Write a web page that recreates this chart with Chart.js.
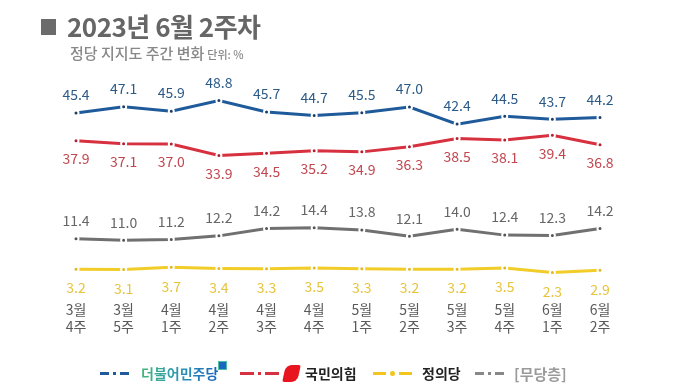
<!DOCTYPE html>
<html>
<head>
<meta charset="utf-8">
<script src="https://cdn.jsdelivr.net/npm/chart.js@4"></script>
<style>
  body { margin: 0; background: #fff; font-family: "Noto Sans CJK KR", "Noto Sans", sans-serif; }
  #wrap { position: relative; width: 680px; height: 389px; overflow: hidden; }
  #myChart { position: absolute; left: 0; top: 0; }
  .title { position: absolute; left: 41px; top: 7px; font-size: 26px; font-weight: 700; color: #666; letter-spacing: -0.5px; white-space: nowrap; }
  .title .sq { display: inline-block; width: 15px; height: 16px; background: #6b6b6b; margin-right: 11px; vertical-align: 2px; }
  .sub { position: absolute; left: 70px; top: 42px; font-size: 15px; font-weight: 500; color: #888; white-space: nowrap; }
  .sub small { font-size: 11px; margin-left: 3px; }
  .lg { position: absolute; top: 362px; height: 22px; display: flex; align-items: center; white-space: nowrap; }
  .sym { display: flex; align-items: center; }
  .sym i { display: block; height: 3px; }
  .name { font-size: 14px; font-weight: 700; margin-left: 10px; }
</style>
</head>
<body>
<div id="wrap">
  <canvas id="myChart" width="680" height="389"></canvas>
  <div class="title"><span class="sq"></span>2023년 6월 2주차</div>
  <div class="sub">정당 지지도 주간 변화<small>단위: %</small></div>

  <div class="lg" style="left:100px">
    <span class="sym"><i style="width:9px;background:#1f5b9a"></i><i style="width:3px;margin:0 4px;background:#1f5b9a"></i><i style="width:9px;background:#1f5b9a"></i></span>
    <span class="name" style="margin-left:12px;background:linear-gradient(90deg,#43b67a,#2f9bb0 45%,#1a66c0);-webkit-background-clip:text;background-clip:text;color:transparent">더불어민주당</span>
    <span style="display:block;width:7px;height:7px;background:#1a66c0;border:1px solid #4cc0a0;margin-top:-16px;margin-left:0"></span>
  </div>
  <div class="lg" style="left:240px">
    <span class="sym"><i style="width:14px;background:#d7303f"></i><i style="width:3px;margin:0 4px;background:#d7303f"></i><i style="width:14px;background:#d7303f"></i></span>
    <span style="display:block;width:15px;height:17px;background:#e8141e;border-radius:6px 2px 6px 2px;transform:skewX(-12deg);margin-left:5px"></span>
    <span class="name" style="margin-left:6px;color:#222">국민의힘</span>
  </div>
  <div class="lg" style="left:373px">
    <span class="sym"><i style="width:13px;background:#f2c61f"></i><i style="width:5px;height:5px;border-radius:50%;margin:0 4px;background:#f2c61f"></i><i style="width:13px;background:#f2c61f"></i></span>
    <span class="name" style="color:#222">정의당</span>
  </div>
  <div class="lg" style="left:475px">
    <span class="sym"><i style="width:9px;background:#888"></i><i style="width:3px;margin:0 4px;background:#888"></i><i style="width:9px;background:#888"></i></span>
    <span class="name" style="color:#9a9a9a;font-size:15px">[무당층]</span>
  </div>
</div>

<script>
let monthLabels = ["3월", "3월", "4월", "4월", "4월", "4월", "5월", "5월", "5월", "5월", "6월", "6월"];
let weekLabels = ["4주", "5주", "1주", "2주", "3주", "4주", "1주", "2주", "3주", "4주", "1주", "2주"];
let minjooData = [45.4, 47.1, 45.9, 48.8, 45.7, 44.7, 45.5, 47.0, 42.4, 44.5, 43.7, 44.2];
let ppData = [37.9, 37.1, 37.0, 33.9, 34.5, 35.2, 34.9, 36.3, 38.5, 38.1, 39.4, 36.8];
let noneData = [11.4, 11.0, 11.2, 12.2, 14.2, 14.4, 13.8, 12.1, 14.0, 12.4, 12.3, 14.2];
let justiceData = [3.2, 3.1, 3.7, 3.4, 3.3, 3.5, 3.3, 3.2, 3.2, 3.5, 2.3, 2.9];

// value labels above/below points + two-line x labels
const labelPlugin = {
  id: "valueLabels",
  afterDatasetsDraw(chart) {
    const ctx = chart.ctx;
    ctx.save();
    ctx.textAlign = "center";
    ctx.textBaseline = "middle";
    ctx.font = "14px 'Noto Sans CJK KR', 'Noto Sans', sans-serif";
    chart.data.datasets.forEach((ds, i) => {
      const meta = chart.getDatasetMeta(i);
      ctx.fillStyle = ds.labelColor;
      meta.data.forEach((pt, j) => {
        ctx.fillText(ds.data[j].toFixed(1), pt.x, pt.y + ds.labelOffset);
      });
    });
    const x = chart.scales.x;
    ctx.font = "14px 'Noto Sans CJK KR', 'Noto Sans', sans-serif";
    ctx.fillStyle = "#5a5a5a";
    monthLabels.forEach((m, j) => {
      const px = x.getPixelForValue(j);
      ctx.fillText(m, px, 310);
      ctx.fillText(weekLabels[j], px, 327);
    });
    ctx.restore();
  }
};

function lineSet(data, color, dot, labelColor, offset) {
  return {
    data: data,
    borderColor: color,
    borderWidth: 3,
    pointRadius: 2.5,
    pointBackgroundColor: dot,
    pointBorderColor: "#fff",
    pointBorderWidth: 2,
    tension: 0,
    labelColor: labelColor,
    labelOffset: offset,
  };
}

let ctx = document.getElementById("myChart");

let chart = new Chart(ctx, {
  type: "line",
  data: {
    labels: monthLabels.map((m, j) => m + " " + weekLabels[j]),
    datasets: [
      lineSet(minjooData, "#1f5b9a", "#1b3f6a", "#2d5b88", -18),
      lineSet(ppData, "#d7303f", "#b02030", "#c1464f", 18),
      lineSet(noneData, "#707070", "#555555", "#666666", -18),
      lineSet(justiceData, "#f2cd2a", "#e0b820", "#e7c43c", 19),
    ],
  },
  options: {
    responsive: false,
    animation: false,
    layout: { padding: { left: 76, right: 80, top: 96, bottom: 108 } },
    plugins: { legend: { display: false }, tooltip: { enabled: false } },
    scales: {
      x: { display: false },
      y: { display: false, min: 0, max: 50 },
    },
  },
  plugins: [labelPlugin],
});
</script>
</body>
</html>
